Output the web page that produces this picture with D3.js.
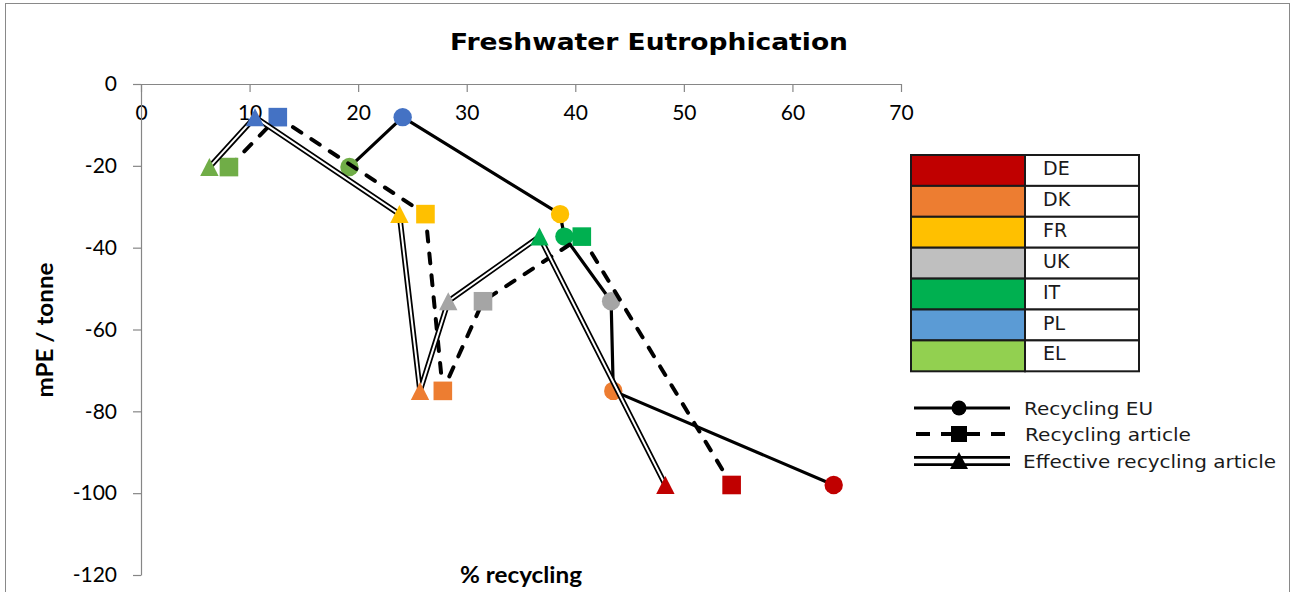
<!DOCTYPE html>
<html><head><meta charset="utf-8">
<script src="https://cdn.jsdelivr.net/npm/d3@7"></script>
<style>body{margin:0;background:#fff;}svg{display:block;}</style>
</head><body><svg id="c" width="1292" height="592"></svg>
<script>
// ---- data ----
const countryCodes = ["DE","DK","FR","UK","IT","PL","EL"];
const legendColors = ["#C00000","#ED7D31","#FFC000","#BFBFBF","#00B050","#5B9BD5","#92D050"];
const markerColors = ["#C00000","#ED7D31","#FFC000","#A5A5A5","#00B050","#4472C4","#70AD47"];
const impact = [-98, -75, -31.8, -53.1, -37.3, -8.1, -20.3];          // mPE / tonne
const recyclingEU = [63.8, 43.5, 38.6, 43.3, 39.0, 24.1, 19.2];        // % recycling
const recyclingArticle = [54.4, 27.8, 26.2, 31.5, 40.6, 12.6, 8.1];
const effectiveRecycling = [48.3, 25.7, 23.8, 28.3, 36.7, 10.5, 6.3];
const euOrder = ["EL","PL","FR","IT","UK","DK","DE"];
const articleOrder = ["EL","PL","FR","DK","UK","IT","DE"];
const effectiveOrder = ["EL","PL","FR","DK","UK","IT","DE"];
const xTicks = [0,10,20,30,40,50,60,70];
const yTicks = [0,-20,-40,-60,-80,-100,-120];
const seriesNames = ["Recycling EU","Recycling article","Effective recycling article"];

const svg = d3.select("#c");
const x = d3.scaleLinear().domain([0,70]).range([141,901]);
const y = d3.scaleLinear().domain([-120,0]).range([575,84]);
const calibri = "Lato, 'Open Sans', sans-serif";
const verdana = "'DejaVu Sans', Verdana, sans-serif";

svg.append("rect").attr("x",5.5).attr("y",3.5).attr("width",1284).attr("height",600)
  .attr("fill","#fff").attr("stroke","#898989").attr("stroke-width",1);

svg.append("text").attr("x",649).attr("y",50).attr("text-anchor","middle")
  .attr("font-family",verdana).attr("font-weight","bold").attr("font-size",23)
  .attr("textLength",398).attr("lengthAdjust","spacingAndGlyphs")
  .text("Freshwater Eutrophication");

// axes
const fmt = d => String(d);
const gx = svg.append("g").attr("transform",`translate(0,${y(0)})`)
  .call(d3.axisBottom(x).tickValues(xTicks).tickFormat(fmt).tickSize(8).tickPadding(13).tickSizeOuter(0));
const gy = svg.append("g").attr("transform",`translate(${x(0)},0)`)
  .call(d3.axisLeft(y).tickValues(yTicks).tickFormat(fmt).tickSize(8).tickPadding(16).tickSizeOuter(0));
[gx,gy].forEach(g=>{
  g.select(".domain").attr("stroke","#868686").attr("stroke-width",1.2);
  g.selectAll(".tick line").attr("stroke","#868686").attr("stroke-width",1.2);
  g.selectAll(".tick text").attr("font-family",calibri).attr("font-size",21).attr("fill","#000");
});
gx.select(".domain").attr("d",`M${x(0)},0.5H${x(70)}`);

svg.append("text").attr("transform","translate(53,330) rotate(-90)").attr("text-anchor","middle")
  .attr("font-family",calibri).attr("font-weight","bold").attr("font-size",22)
  .attr("textLength",135).attr("lengthAdjust","spacingAndGlyphs").text("mPE / tonne");
svg.append("text").attr("x",521).attr("y",583).attr("text-anchor","middle")
  .attr("font-family",calibri).attr("font-weight","bold").attr("font-size",22)
  .attr("textLength",122).attr("lengthAdjust","spacingAndGlyphs").text("% recycling");

function pts(vals, order){
  return order.map(c=>{const i=countryCodes.indexOf(c);return [x(vals[i]),y(impact[i])];});
}
const line = d3.line();
const plot = svg.append("g");

// Series 1: Recycling EU (solid, circles)
plot.append("path").attr("d",line(pts(recyclingEU,euOrder))).attr("fill","none")
  .attr("stroke","#000").attr("stroke-width",3.2).attr("stroke-linejoin","round");
plot.selectAll(".c").data(countryCodes).enter().append("circle")
  .attr("cx",(d,i)=>x(recyclingEU[i])).attr("cy",(d,i)=>y(impact[i])).attr("r",9.2)
  .attr("fill",(d,i)=>markerColors[i]);

// Series 2: Recycling article (dashed, squares)
plot.append("path").attr("d",line(pts(recyclingArticle,articleOrder))).attr("fill","none")
  .attr("stroke","#000").attr("stroke-width",4).attr("stroke-dasharray","10,12")
  .attr("stroke-linecap","round").attr("stroke-linejoin","round");
plot.selectAll(".s").data(countryCodes).enter().append("rect")
  .attr("x",(d,i)=>x(recyclingArticle[i])-9.3).attr("y",(d,i)=>y(impact[i])-9.3)
  .attr("width",18.6).attr("height",18.6).attr("fill",(d,i)=>markerColors[i]);

// Series 3: Effective recycling article (double line, triangles)
const effD = line(pts(effectiveRecycling,effectiveOrder));
plot.append("path").attr("d",effD).attr("fill","none").attr("stroke","#000").attr("stroke-width",5.5);
plot.append("path").attr("d",effD).attr("fill","none").attr("stroke","#fff").attr("stroke-width",2);
const tri = "M0,-9L9.2,9L-9.2,9Z";
plot.selectAll(".t").data(countryCodes).enter().append("path")
  .attr("transform",(d,i)=>`translate(${x(effectiveRecycling[i])},${y(impact[i])})`)
  .attr("d",tri).attr("fill",(d,i)=>markerColors[i]);

// Country legend table
const lg = svg.append("g");
const rowH = 30.9, tx0 = 911, tx1 = 1025, tx2 = 1139, ty0 = 155;
countryCodes.forEach((c,i)=>{
  const yy = ty0 + i*rowH;
  lg.append("rect").attr("x",tx0).attr("y",yy).attr("width",tx1-tx0).attr("height",rowH)
    .attr("fill",legendColors[i]).attr("stroke","#1a1a1a").attr("stroke-width",2);
  lg.append("rect").attr("x",tx1).attr("y",yy).attr("width",tx2-tx1).attr("height",rowH)
    .attr("fill","#fff").attr("stroke","#1a1a1a").attr("stroke-width",2);
  lg.append("text").attr("x",1043).attr("y",yy+20).attr("font-family",verdana)
    .attr("font-size",19).attr("fill","#1a1a1a").text(c);
});

// Series legend
const sy = [408, 434, 461];
const sl = svg.append("g");
sl.append("line").attr("x1",914).attr("x2",1010).attr("y1",sy[0]).attr("y2",sy[0])
  .attr("stroke","#000").attr("stroke-width",3.2);
sl.append("circle").attr("cx",959).attr("cy",sy[0]).attr("r",7.5).attr("fill","#000");
sl.append("line").attr("x1",916).attr("x2",1008).attr("y1",sy[1]).attr("y2",sy[1])
  .attr("stroke","#000").attr("stroke-width",4).attr("stroke-dasharray","14,11");
sl.append("rect").attr("x",951).attr("y",sy[1]-8).attr("width",16).attr("height",16).attr("fill","#000");
sl.append("line").attr("x1",914).attr("x2",1010).attr("y1",sy[2]).attr("y2",sy[2])
  .attr("stroke","#000").attr("stroke-width",10);
sl.append("line").attr("x1",913).attr("x2",1011).attr("y1",sy[2]).attr("y2",sy[2])
  .attr("stroke","#fff").attr("stroke-width",4.5);
sl.append("path").attr("transform",`translate(959,${sy[2]})`).attr("d","M0,-9L9,8L-9,8Z").attr("fill","#000");
const sxText = [1024, 1025, 1023];
const sw = [129, 166, 253];
seriesNames.forEach((n,i)=>{
  sl.append("text").attr("x",sxText[i]).attr("y",sy[i]+6.5).attr("font-family",verdana)
    .attr("font-size",18).attr("fill","#1a1a1a")
    .attr("textLength",sw[i]).attr("lengthAdjust","spacingAndGlyphs").text(n);
});
</script></body></html>
